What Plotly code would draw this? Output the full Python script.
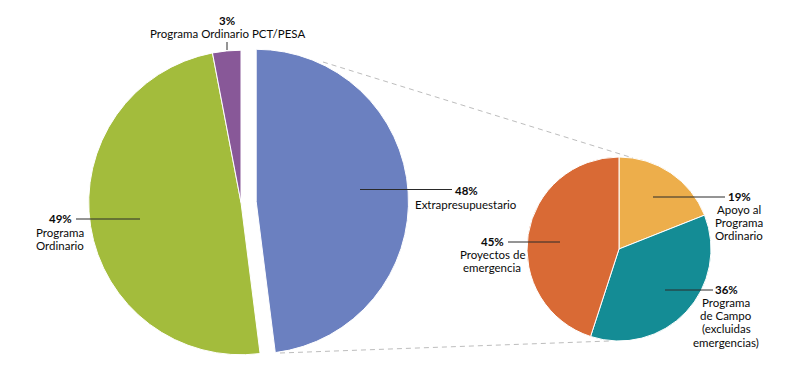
import plotly.graph_objects as go

W, H = 800, 370

# ---- data ----
main_labels = ["Extrapresupuestario", "Programa<br>Ordinario", "Programa Ordinario PCT/PESA"]
main_values = [48, 49, 3]
main_colors = ["#6B80C0", "#A3BC3C", "#885898"]

sub_labels = ["Apoyo al<br>Programa<br>Ordinario", "Programa<br>de Campo<br>(excluidas<br>emergencias)", "Proyectos de<br>emergencia"]
sub_values = [19, 36, 45]
sub_colors = ["#EDAE4B", "#148C95", "#D96A35"]

FONT = "Lato"
FS = 11.5
LINE_H = 13.3


def px(x):
    return x / W


def py(y):
    return 1 - y / H


fig = go.Figure()

fig.add_trace(go.Pie(
    labels=main_labels, values=main_values, sort=False, direction="clockwise",
    rotation=0, pull=[0.1, 0, 0], textinfo="none", hoverinfo="label+percent",
    marker=dict(colors=main_colors, line=dict(color="white", width=1)),
    domain=dict(x=[px(73.5), px(408.5)], y=[py(370), py(35)]),
    showlegend=False,
))

fig.add_trace(go.Pie(
    labels=sub_labels, values=sub_values, sort=False, direction="clockwise",
    rotation=0, textinfo="none", hoverinfo="label+percent",
    marker=dict(colors=sub_colors, line=dict(color="white", width=1)),
    domain=dict(x=[px(527), px(711)], y=[py(341), py(157)]),
    showlegend=False,
))

shapes = []
annotations = []


def add_label(pct, label, cx, y0):
    lines = ["<b>%d%%</b>" % pct] + label.split("<br>")
    for i, t in enumerate(lines):
        annotations.append(dict(
            x=px(cx), y=py(y0 + i * LINE_H), xref="paper", yref="paper",
            text=t, showarrow=False, xanchor="center", yanchor="middle",
            font=dict(family=FONT, size=FS, color="#0a0a0a"),
        ))


def add_leader(x0, y0, x1, y1):
    shapes.append(dict(type="line", xref="paper", yref="paper",
                       x0=px(x0), y0=py(y0), x1=px(x1), y1=py(y1),
                       line=dict(color="#2a2a2a", width=1)))


def add_dash(x0, y0, x1, y1):
    shapes.append(dict(type="line", xref="paper", yref="paper",
                       x0=px(x0), y0=py(y0), x1=px(x1), y1=py(y1),
                       line=dict(color="#BDBDBD", width=1, dash="5px,4px")))


# main pie labels
add_label(main_values[0], main_labels[0], 466, 191)
add_leader(360, 189.5, 452, 189.5)
add_label(main_values[1], main_labels[1], 60, 219)
add_leader(76, 219, 140, 219)
add_label(main_values[2], main_labels[2], 227, 20)
add_leader(227, 42, 227, 50)

# sub pie labels
add_label(sub_values[0], sub_labels[0], 739, 196)
add_leader(653, 197, 725, 197)
add_label(sub_values[1], sub_labels[1], 726, 289)
add_leader(665, 290, 713, 290)
add_label(sub_values[2], sub_labels[2], 492, 241)
add_leader(508, 242, 560, 242)

# connector dashed lines
add_dash(323, 62, 633, 158)
add_dash(280, 353, 610, 341)

fig.update_layout(
    width=W, height=H, margin=dict(l=0, r=0, t=0, b=0),
    paper_bgcolor="white", plot_bgcolor="white",
    shapes=shapes, annotations=annotations,
    font=dict(family=FONT, size=FS),
)

fig.write_html("out.html", config={"displayModeBar": False},
               post_script="document.body.style.margin='0';document.body.style.overflow='hidden';")
